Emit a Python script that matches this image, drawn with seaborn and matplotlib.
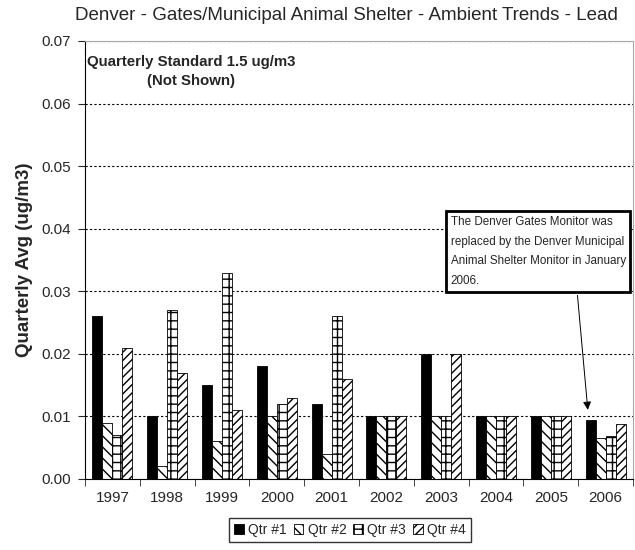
import pandas as pd
import seaborn as sns
import matplotlib.pyplot as plt
from matplotlib.ticker import FormatStrFormatter, FixedLocator

years = ["1997", "1998", "1999", "2000", "2001", "2002", "2003", "2004", "2005", "2006"]
qtr1 = [0.026, 0.010, 0.015, 0.018, 0.012, 0.010, 0.020, 0.010, 0.010, 0.0095]
qtr2 = [0.009, 0.002, 0.006, 0.010, 0.004, 0.010, 0.010, 0.010, 0.010, 0.0065]
qtr3 = [0.007, 0.027, 0.033, 0.012, 0.026, 0.010, 0.010, 0.010, 0.010, 0.0068]
qtr4 = [0.021, 0.017, 0.011, 0.013, 0.016, 0.010, 0.020, 0.010, 0.010, 0.0088]
quarters = ["Qtr #1", "Qtr #2", "Qtr #3", "Qtr #4"]

rows = []
for q, vals in zip(quarters, [qtr1, qtr2, qtr3, qtr4]):
    for y, v in zip(years, vals):
        rows.append({"Year": y, "Quarter": q, "Avg": v})
df = pd.DataFrame(rows)

sns.set_style("white")
plt.rcParams["font.family"] = ["Liberation Sans", "DejaVu Sans"]

fig = plt.figure(figsize=(6.35, 5.5), dpi=100)
ax = fig.add_axes([85 / 635, 1 - 479 / 550, 548 / 635, 438 / 550])

colors = {"Qtr #1": "black", "Qtr #2": "white", "Qtr #3": "white", "Qtr #4": "white"}
sns.barplot(data=df, x="Year", y="Avg", hue="Quarter", palette=colors,
            width=0.73, gap=0, edgecolor="black", linewidth=0.6, ax=ax, legend=False)

hatches = {"Qtr #1": "", "Qtr #2": "\\\\\\", "Qtr #3": "++", "Qtr #4": "////"}
for cont, q in zip(ax.containers, quarters):
    for bar in cont:
        bar.set_hatch(hatches[q])

ax.set_ylim(0, 0.07)
ax.set_xlim(-0.5, len(years) - 0.5)
ax.yaxis.set_major_formatter(FormatStrFormatter("%.2f"))
ax.set_yticks([i * 0.01 for i in range(8)])
ax.yaxis.grid(True, linestyle=(0, (2, 2)), color="black", linewidth=0.8)
ax.set_axisbelow(True)
for s in ["top", "right"]:
    ax.spines[s].set_color("#a8a8a8")
    ax.spines[s].set_linewidth(0.8)
for s in ["left", "bottom"]:
    ax.spines[s].set_color("black")
    ax.spines[s].set_linewidth(0.8)
ax.tick_params(axis="x", length=0, labelsize=11, pad=9)
ax.tick_params(axis="y", length=5, labelsize=11, left=True, direction="out", pad=5)
ax.xaxis.set_minor_locator(FixedLocator([i - 0.5 for i in range(len(years) + 1)]))
ax.tick_params(axis="x", which="minor", length=5, bottom=True, direction="out")

ax.set_xlabel("")
ax.set_ylabel("Quarterly Avg (ug/m3)", fontsize=13.5, fontweight="bold", labelpad=6)
fig.text(0.545, 0.972, "Denver - Gates/Municipal Animal Shelter - Ambient Trends - Lead",
         fontsize=13.5, ha="center", va="center")

ax.text(0.193, 0.968, "Quarterly Standard 1.5 ug/m3\n(Not Shown)", transform=ax.transAxes,
        fontsize=10.8, fontweight="bold", ha="center", va="top", linespacing=1.45)

ax.annotate("The Denver Gates Monitor was\nreplaced by the Denver Municipal\nAnimal Shelter Monitor in January\n2006.",
            xy=(8.68, 0.0106), xytext=(6.17, 0.0307), textcoords="data",
            fontsize=8.4, ha="left", va="bottom", linespacing=1.85,
            bbox=dict(boxstyle="square,pad=0.4", fc="white", ec="black", lw=2),
            arrowprops=dict(arrowstyle="-|>", color="black", lw=0.7,
                            mutation_scale=12, relpos=(0.72, 0.0)))

handles = [plt.Rectangle((0, 0), 1, 1, facecolor=colors[q], edgecolor="black",
                         hatch=hatches[q], linewidth=0.6) for q in quarters]
fig.legend(handles, quarters, loc="center", bbox_to_anchor=(350 / 635, 1 - 530 / 550), ncol=4,
           frameon=True, fancybox=False, edgecolor="black",
           prop={"size": 10},
           handlelength=0.7, handleheight=0.7, handletextpad=0.3, columnspacing=0.5,
           borderpad=0.35)

fig.savefig("out.png", dpi=100)
